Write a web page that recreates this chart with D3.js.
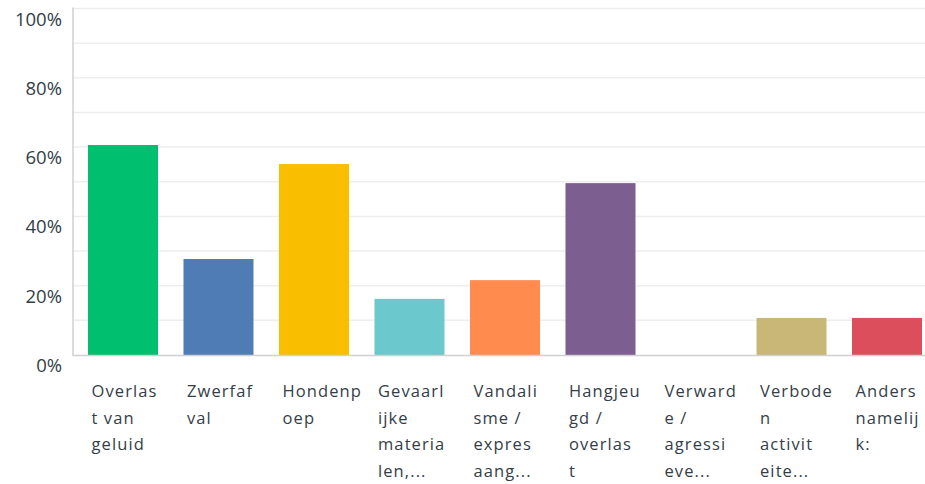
<!DOCTYPE html>
<html><head><meta charset="utf-8">
<script src="https://cdn.jsdelivr.net/npm/d3@7"></script>
<style>
html,body{margin:0;padding:0;background:#fff;}
svg{display:block;}
</style></head>
<body>
<svg id="chart" width="925" height="484"></svg>
<script>
const categories = ["Overlast van geluid","Zwerfafval","Hondenpoep","Gevaarlijke materialen","Vandalisme / expres","Hangjeugd / overlast","Verwarde / agressieve","Verboden activiteiten","Anders namelijk:"];
const tickLabels = [
  ["Overlas","t van","geluid"],
  ["Zwerfaf","val"],
  ["Hondenp","oep"],
  ["Gevaarl","ijke","materia","len,..."],
  ["Vandali","sme /","expres","aang..."],
  ["Hangjeu","gd /","overlas","t"],
  ["Verward","e /","agressi","eve..."],
  ["Verbode","n","activit","eite..."],
  ["Anders","namelij","k:"]
];
const values = [60.6, 27.7, 55.1, 16.2, 21.6, 49.6, 0, 10.7, 10.7];
const colors = ["#00BF6F","#507CB6","#F9BE00","#6BC8CD","#FF8B4F","#7D5E90","#D25F90","#C9B777","#DC4E5C"];
const yTicks = [0,20,40,60,80,100];
const gridTicks = [0,10,20,30,40,50,60,70,80,90,100];

const svg = d3.select("#chart");
const x = d3.scaleBand().domain(categories).range([73, 937]).paddingInner(0.267).paddingOuter(0.157);
const y = d3.scaleLinear().domain([0,100]).range([355, 8.5]);

svg.append("g").selectAll("line").data(gridTicks.filter(d=>d>0)).join("line")
  .attr("x1",73).attr("x2",925).attr("y1",d=>y(d)).attr("y2",d=>y(d))
  .attr("stroke","#eeeeee").attr("stroke-width",1.5);

svg.append("g").selectAll("rect").data(values).join("rect")
  .attr("x",(d,i)=>x(categories[i])).attr("width",x.bandwidth())
  .attr("y",d=>y(d)).attr("height",d=>y(0)-y(d))
  .attr("fill",(d,i)=>colors[i]);

svg.append("line").attr("x1",73).attr("x2",73).attr("y1",7.5).attr("y2",355.5)
  .attr("stroke","#d0d0d0").attr("stroke-width",1.5);
svg.append("line").attr("x1",72.5).attr("x2",925).attr("y1",y(0)+0.5).attr("y2",y(0)+0.5)
  .attr("stroke","#d0d0d0").attr("stroke-width",1.5);

svg.append("g").selectAll("text").data(yTicks).join("text")
  .attr("x",62).attr("y",d=>y(d)+17).attr("text-anchor","end")
  .attr("font-family","'Open Sans', sans-serif").attr("font-size",18.5).attr("fill","#333e48")
  .text(d=>d+"%");

const lg = svg.append("g");
categories.forEach((c,i)=>{
  const t = lg.append("text").attr("x",x(c)+3.5).attr("y",397)
    .attr("font-family","'Open Sans', sans-serif").attr("font-size",16.5)
    .attr("letter-spacing","1.1px").attr("fill","#333e48");
  tickLabels[i].forEach((ln,j)=>{
    t.append("tspan").attr("x",x(c)+3.5).attr("dy", j===0?0:26.7).text(ln);
  });
});
</script>
</body></html>
